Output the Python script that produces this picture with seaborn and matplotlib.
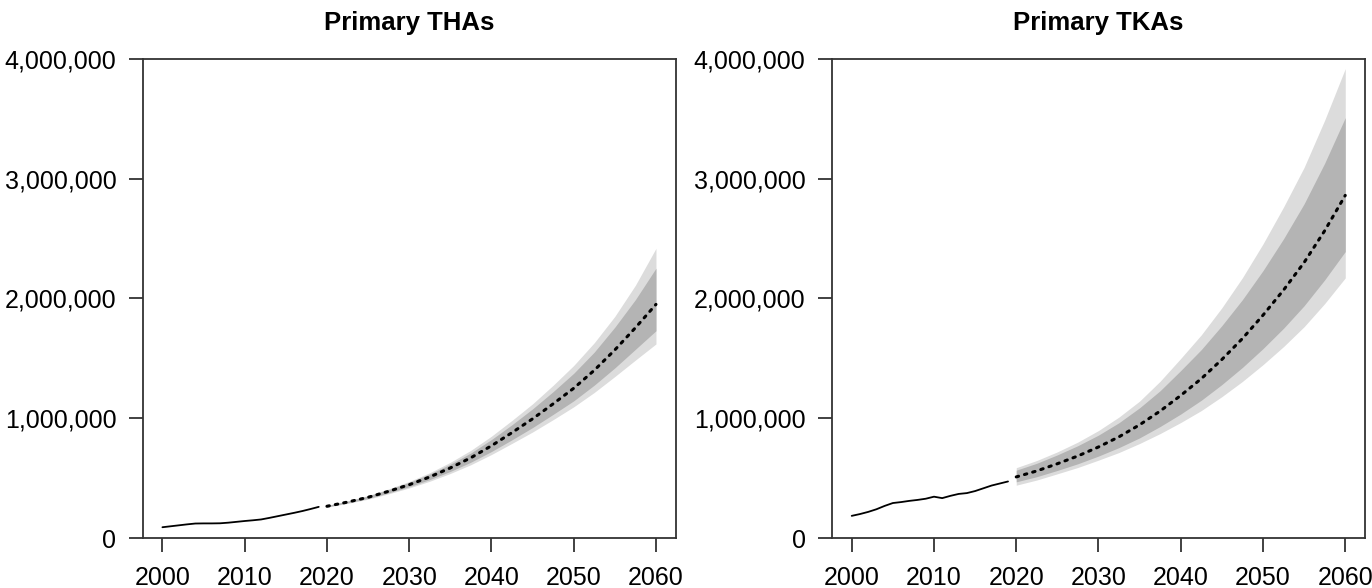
import numpy as np
import pandas as pd
import seaborn as sns
import matplotlib.pyplot as plt
from matplotlib.ticker import FuncFormatter

# historical counts 2000-2019
hist_years = list(range(2000, 2020))
tha_hist = [90000, 98000, 106000, 114000, 121000, 122000, 122000, 123000, 128000, 135000,
            142000, 148000, 155000, 168000, 182000, 196000, 210000, 225000, 242000, 260000]
tka_hist = [185000, 200000, 218000, 240000, 268000, 292000, 300000, 310000, 318000, 328000,
            345000, 333000, 352000, 368000, 375000, 392000, 415000, 438000, 455000, 472000]

# projections 2020-2060 (median + two interval bands), values in thousands
proj_years = [2020, 2022.5, 2025, 2027.5, 2030, 2032.5, 2035, 2037.5, 2040,
              2042.5, 2045, 2047.5, 2050, 2052.5, 2055, 2057.5, 2060]
tha_med = [265, 300, 340, 390, 445, 510, 585, 670, 770, 880, 995, 1120, 1250, 1400, 1570, 1755, 1950]
tha_out_hi = [273, 310, 355, 410, 472, 545, 632, 732, 850, 982, 1120, 1275, 1440, 1630, 1850, 2110, 2418]
tha_in_hi = [270, 307, 351, 404, 464, 534, 616, 710, 822, 946, 1078, 1222, 1375, 1552, 1760, 1990, 2252]
tha_in_lo = [260, 293, 330, 377, 428, 488, 556, 633, 722, 820, 922, 1032, 1145, 1276, 1420, 1575, 1730]
tha_out_lo = [257, 289, 324, 369, 418, 474, 539, 612, 697, 790, 885, 988, 1095, 1215, 1348, 1485, 1620]

tka_med = [510, 560, 620, 685, 760, 845, 945, 1060, 1190, 1330, 1490, 1665, 1860, 2070, 2300, 2565, 2860]
tka_out_hi = [587, 647, 719, 801, 897, 1010, 1143, 1309, 1499, 1696, 1922, 2173, 2455, 2763, 3094, 3488, 3918]
tka_in_hi = [566, 624, 694, 771, 859, 963, 1087, 1230, 1398, 1573, 1773, 1990, 2232, 2498, 2790, 3129, 3509]
tka_in_lo = [469, 512, 564, 620, 684, 755, 836, 931, 1035, 1150, 1281, 1424, 1581, 1751, 1939, 2155, 2391]
tka_out_lo = [441, 484, 536, 589, 650, 714, 789, 872, 964, 1064, 1180, 1307, 1447, 1598, 1764, 1957, 2171]

titles = ["Primary THAs", "Primary TKAs"]
x_ticks = [2000, 2010, 2020, 2030, 2040, 2050, 2060]
y_ticks = [0, 1000000, 2000000, 3000000, 4000000]

sns.set_style("white")
plt.rcParams['font.family'] = ['Liberation Sans', 'DejaVu Sans']
plt.rcParams['text.color'] = 'black'
plt.rcParams['xtick.color'] = 'black'
plt.rcParams['ytick.color'] = 'black'

fig = plt.figure(figsize=(13.72, 5.88), dpi=100)
ax1 = fig.add_axes([0.104, 0.085, 0.3885, 0.815])
ax2 = fig.add_axes([0.6064, 0.085, 0.3885, 0.815])

panels = [
    (ax1, tha_hist, tha_med, tha_out_hi, tha_in_hi, tha_in_lo, tha_out_lo),
    (ax2, tka_hist, tka_med, tka_out_hi, tka_in_hi, tka_in_lo, tka_out_lo),
]

k = 1000  # thousands -> counts
for i, (ax, hist, med, ohi, ihi, ilo, olo) in enumerate(panels):
    ax.fill_between(proj_years, np.array(olo) * k, np.array(ohi) * k, color='#dcdcdc', linewidth=0)
    ax.fill_between(proj_years, np.array(ilo) * k, np.array(ihi) * k, color='#b4b4b4', linewidth=0)
    sns.lineplot(x=hist_years, y=hist, ax=ax, color='black', linewidth=1.3)
    sns.lineplot(x=proj_years, y=np.array(med) * k, ax=ax, color='black', linewidth=2.2,
                 linestyle=(0, (0.8, 2.0)), dash_capstyle='round')

    ax.set_xlim(1997.6, 2062.4)
    ax.set_ylim(0, 4000000)
    ax.set_xticks(x_ticks)
    ax.set_yticks(y_ticks)
    ax.yaxis.set_major_formatter(FuncFormatter(lambda v, p: f"{int(v):,}"))
    ax.tick_params(axis='both', direction='out', length=10, width=1.3,
                   labelsize=18, color='#333333', labelcolor='black')
    ax.tick_params(axis='x', pad=10)
    ax.tick_params(axis='y', pad=9)
    ax.tick_params(bottom=True, left=True)
    for s in ax.spines.values():
        s.set_visible(True)
        s.set_color('#333333')
        s.set_linewidth(1.3)
    ax.set_xlabel("")
    ax.set_ylabel("")
    ax.set_title(titles[i], fontsize=18.5, fontweight='bold', pad=21, color='black')

fig.savefig("out.png", dpi=100)
